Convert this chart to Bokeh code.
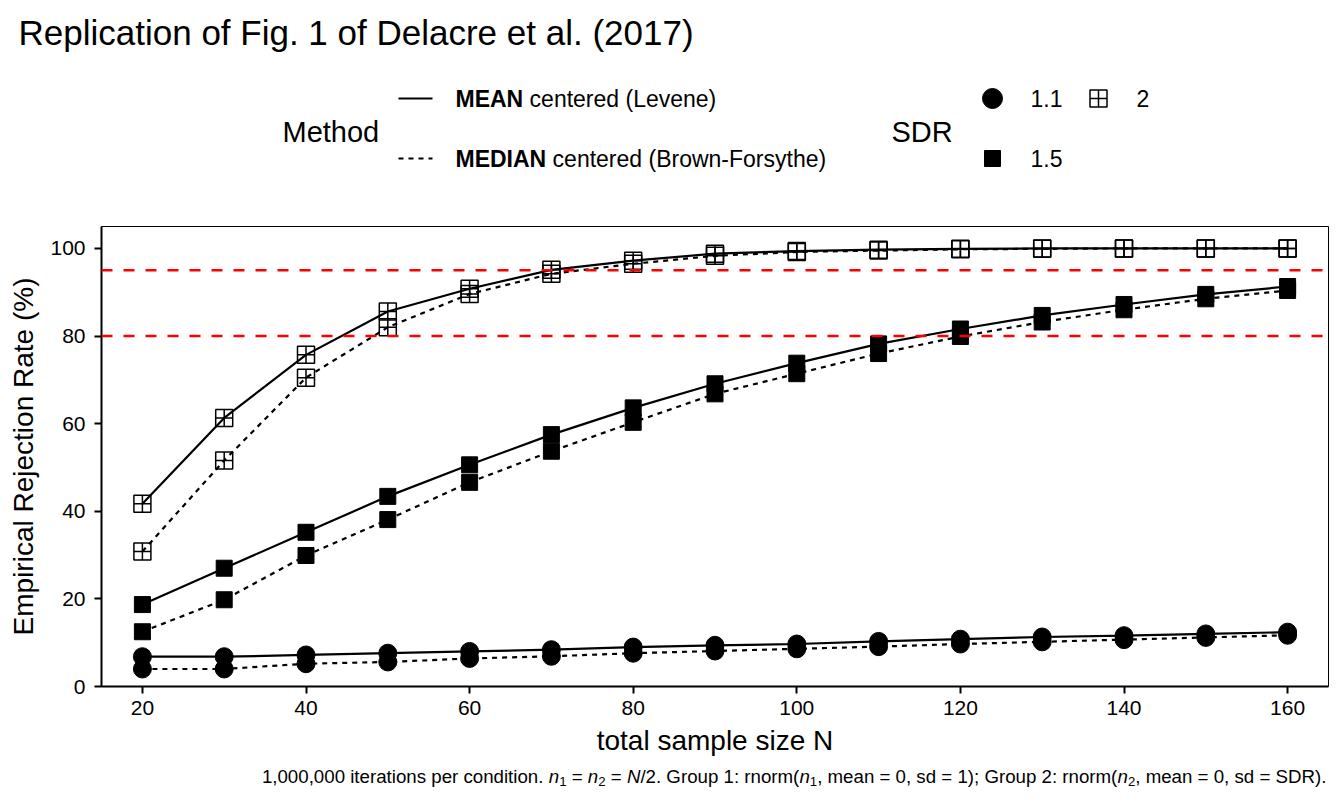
from bokeh.plotting import figure
from bokeh.layouts import column
from bokeh.models import Range1d, Span, SingleIntervalTicker, Label
from bokeh.embed import file_html
from bokeh.resources import INLINE

# data (empirical rejection rate, %)
N = [20, 30, 40, 50, 60, 70, 80, 90, 100, 110, 120, 130, 140, 150, 160]
mean_11 = [6.8, 6.8, 7.2, 7.6, 8.0, 8.4, 9.0, 9.4, 9.7, 10.3, 10.8, 11.3, 11.6, 12.0, 12.4]
median_11 = [4.0, 4.0, 5.2, 5.6, 6.4, 6.9, 7.6, 8.1, 8.6, 9.1, 9.7, 10.2, 10.7, 11.2, 11.7]
mean_15 = [18.7, 27.0, 35.2, 43.4, 50.6, 57.5, 63.6, 69.1, 73.8, 78.2, 81.6, 84.7, 87.2, 89.5, 91.3]
median_15 = [12.5, 19.8, 29.9, 38.1, 46.6, 53.7, 60.3, 66.8, 71.4, 76.0, 79.9, 83.2, 86.0, 88.5, 90.4]
mean_2 = [41.7, 61.3, 75.7, 85.6, 90.8, 95.1, 97.2, 98.8, 99.4, 99.7, 99.9, 100, 100, 100, 100]
median_2 = [30.8, 51.6, 70.5, 82.0, 89.6, 94.2, 96.5, 98.3, 99.2, 99.5, 99.8, 99.9, 100, 100, 100]
power_lines = [80, 95]

sdr_labels = ["1.1", "1.5", "2"]
method_bold = ["MEAN", "MEDIAN"]
method_rest = ["centered (Levene)", "centered (Brown-Forsythe)"]

TITLE = "Replication of Fig. 1 of Delacre et al. (2017)"
X_LABEL = "total sample size N"
Y_LABEL = "Empirical Rejection Rate (%)"
# caption pieces: (text, style)
caption = [
    ("1,000,000 iterations per condition. ", "normal"), ("n", "italic"), ("1", "sub"),
    (" = ", "normal"), ("n", "italic"), ("2", "sub"), (" = ", "normal"), ("N", "italic"),
    ("/2. Group 1: rnorm(", "normal"), ("n", "italic"), ("1", "sub"),
    (", mean = 0, sd = 1); Group 2: rnorm(", "normal"), ("n", "italic"), ("2", "sub"),
    (", mean = 0, sd = SDR).", "normal"),
]

FONT = "Liberation Sans"

# Arial / Liberation Sans advance widths (1/1000 em)
WIDTHS = {' ': 278, ',': 278, '.': 278, '/': 278, ':': 278, ';': 278, '(': 333, ')': 333,
          '=': 584, 'G': 778, 'N': 722, 'S': 667, 'D': 722, 'R': 722,
          'a': 556, 'c': 500, 'd': 556, 'e': 556, 'i': 222, 'm': 833, 'n': 556, 'o': 556,
          'p': 556, 'r': 333, 's': 500, 't': 278, 'u': 556}
BOLD_WIDTHS = {'M': 833, 'E': 667, 'A': 722, 'N': 722, 'D': 722, 'I': 278, ' ': 278}


def text_width(s, size, table=WIDTHS):
    return sum(table.get(ch, 556) for ch in s) * size / 1000.0


def label(fig, x, y, text, size, style="normal"):
    fig.add_layout(Label(x=x, y=y, text=text, text_font=FONT,
                         text_font_size="%spx" % size, text_font_style=style,
                         text_baseline="middle", text_color="black"))


# frame of every part spans page x 101..1328, so data x = page pixel
FRAME_L, FRAME_R = 101, 1328
W = 1332
HEADER_H = 200
HEADER_TOP = 60   # title band above the legend frame


def strip_fig(fig):
    fig.grid.visible = False
    fig.outline_line_color = None
    fig.background_fill_color = "white"
    fig.border_fill_color = "white"


# header: title (in the figure's title band) and legend
header = figure(width=W, height=HEADER_H, x_range=Range1d(FRAME_L, FRAME_R),
                y_range=Range1d(HEADER_H, HEADER_TOP), x_axis_type=None, y_axis_type=None,
                toolbar_location=None, output_backend="svg", title=TITLE,
                min_border_left=FRAME_L, min_border_right=W - FRAME_R,
                min_border_top=HEADER_TOP, min_border_bottom=0)
strip_fig(header)
header.title.text_font = FONT
header.title.text_font_size = "35px"
header.title.text_font_style = "normal"
header.title.text_color = "black"
header.title.align = "left"
header.title.offset = 18 - FRAME_L
header.title.standoff = 18

label(header, 282, 131, "Method", 29)
label(header, 891, 131, "SDR", 29)

key_y = [98, 158]
dashes = ["solid", "5 5"]
for i in range(2):
    header.line([398, 432], [key_y[i], key_y[i]], line_color="black", line_width=2,
                line_dash=dashes[i])
    label(header, 455, key_y[i], method_bold[i], 23, "bold")
    x_rest = 455 + text_width(method_bold[i] + " ", 23, BOLD_WIDTHS)
    label(header, x_rest, key_y[i], method_rest[i], 23)

header.scatter(x=[992], y=[98], marker="circle", size=20, color="black")
header.scatter(x=[992], y=[158], marker="square", size=16, color="black")
header.scatter(x=[1098], y=[98], marker="square_cross", size=17, line_color="black",
               line_width=1.5, fill_alpha=0)
for lx, ly, t in zip([1030, 1030, 1136], [98, 158, 98], sdr_labels):
    label(header, lx, ly, t, 23)

# main panel
p = figure(width=W, height=566, x_range=Range1d(15, 165), y_range=Range1d(0, 105),
           toolbar_location=None, output_backend="svg",
           min_border_left=FRAME_L, min_border_right=W - FRAME_R,
           min_border_top=26, min_border_bottom=80)
p.grid.visible = False
p.outline_line_color = "black"
p.outline_line_width = 1
p.background_fill_color = "white"
p.border_fill_color = "white"

p.xaxis.ticker = SingleIntervalTicker(interval=20, num_minor_ticks=0)
p.yaxis.ticker = SingleIntervalTicker(interval=20, num_minor_ticks=0)
p.axis.axis_line_width = 2
p.axis.axis_line_color = "black"
p.axis.major_tick_line_width = 2
p.axis.major_tick_line_color = "black"
p.axis.major_tick_out = 7
p.axis.major_tick_in = 0
p.axis.minor_tick_out = 0
p.axis.minor_tick_in = 0
p.axis.major_label_text_font = FONT
p.axis.major_label_text_font_size = "21px"
p.axis.major_label_text_color = "black"
p.axis.axis_label_text_font = FONT
p.axis.axis_label_text_font_size = "28px"
p.axis.axis_label_text_font_style = "normal"
p.axis.axis_label_text_color = "black"
p.xaxis.axis_label = X_LABEL
p.yaxis.axis_label = Y_LABEL
p.xaxis.major_label_standoff = 7
p.xaxis.axis_label_standoff = 7
p.yaxis.major_label_standoff = 9
p.yaxis.axis_label_standoff = 8

for loc in power_lines:
    p.add_layout(Span(location=loc, dimension="width", line_color="red", line_width=2.5,
                      line_dash="11 11"))

series = [
    (mean_11, "solid", "circle"), (median_11, "5 5", "circle"),
    (mean_15, "solid", "square"), (median_15, "5 5", "square"),
    (mean_2, "solid", "square_cross"), (median_2, "5 5", "square_cross"),
]
for vals, dash, _ in series:
    p.line(N, vals, line_color="black", line_width=2.2, line_dash=dash)
for vals, _, marker in series:
    if marker == "circle":
        p.scatter(N, vals, marker="circle", size=18, color="black")
    elif marker == "square":
        p.scatter(N, vals, marker="square", size=16, color="black")
    else:
        p.scatter(N, vals, marker="square_cross", size=17, line_color="black",
                  line_width=1.5, fill_alpha=0)

# footer: caption, right aligned at page x 1326
footer = figure(width=W, height=24, x_range=Range1d(FRAME_L, FRAME_R), y_range=Range1d(790, 766),
                x_axis_type=None, y_axis_type=None, toolbar_location=None,
                output_backend="svg", min_border_left=FRAME_L, min_border_right=W - FRAME_R,
                min_border_top=0, min_border_bottom=0)
strip_fig(footer)
cap_size = 18.7
sub_size = 13.2
total = sum(text_width(t, sub_size if s == "sub" else cap_size) for t, s in caption)
x = 1326 - total
for t, s in caption:
    size = sub_size if s == "sub" else cap_size
    lead = len(t) - len(t.lstrip(" "))
    label(footer, x + text_width(" " * lead, size), 776 + (5 if s == "sub" else 0),
          t.strip(" "), size, "italic" if s == "italic" else "normal")
    x += text_width(t, size)

layout = column(header, p, footer)
open("out.html", "w").write(file_html(layout, INLINE))
